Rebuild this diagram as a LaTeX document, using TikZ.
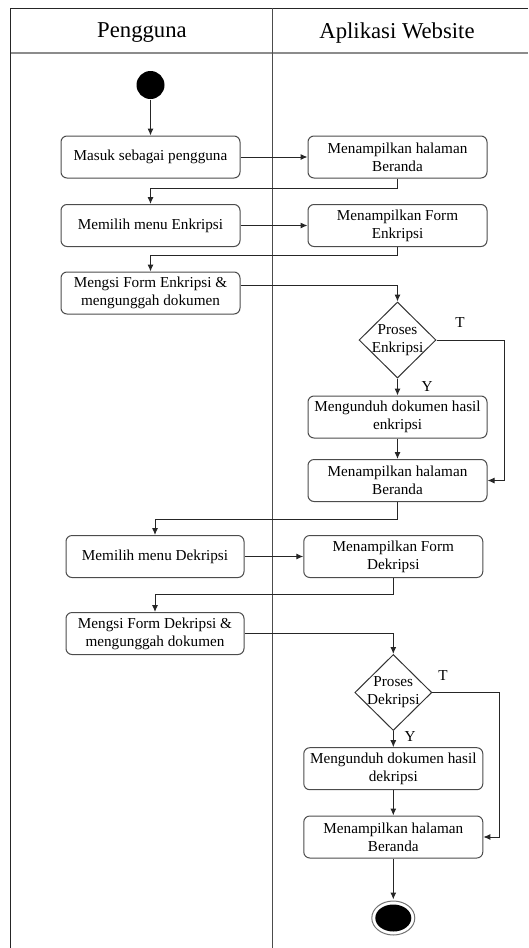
\documentclass[tikz,border=0pt]{standalone}
\usepackage{fontspec}
\setmainfont{Liberation Serif}
\usetikzlibrary{positioning,arrows.meta,shapes}

\begin{document}
\begin{tikzpicture}[x=1pt,y=-1pt,line width=1pt,>={Latex[length=7pt,width=6pt]},
  activity/.style={draw=black!70,rounded corners=6pt,minimum width=179pt,minimum height=42pt,
    inner sep=1pt,align=center,font=\fontsize{15.2}{18}\selectfont},
  decision/.style={draw=black!80,diamond,minimum width=77pt,minimum height=76pt,inner sep=0pt},
  tag/.style={font=\fontsize{15.2}{18}\selectfont,inner sep=0pt},
  lane/.style={font=\fontsize{22.7}{27}\selectfont},
  flow/.style={draw=black!85,->}]
  \useasboundingbox (0,0) rectangle (528,948);
  % swimlanes
  \draw[black!85] (10.5,948) -- (10.5,8) -- (528,8);
  \draw[black!45,line width=1.6pt] (10.5,53) -- (528,53);
  \draw[black!70] (272,8) -- (272,948);
  \node[lane] (user) at (142,33) {Pengguna};
  \node[lane] (web) at (397,33) {Aplikasi Website};

  % nodes
  \node[circle,fill=black,minimum size=28pt,inner sep=0pt] (start) at (150.5,85) {};
  \node[activity] (login) at (150.5,157) {Masuk sebagai pengguna};
  \node[activity] (home1) at (397.5,157) {Menampilkan halaman\\Beranda};
  \node[activity] (menuE) at (150.5,225.5) {Memilih menu Enkripsi};
  \node[activity] (formE) at (397.5,225.5) {Menampilkan Form\\Enkripsi};
  \node[activity] (fillE) at (150.5,293) {Mengsi Form Enkripsi \&\\mengunggah dokumen};
  \node[decision,label={[align=center,font=\fontsize{15.2}{18}\selectfont]center:Proses\\Enkripsi}] (procE) at (397.5,340) {};
  \node[activity] (downE) at (397.5,417) {Mengunduh dokumen hasil\\enkripsi};
  \node[activity] (home2) at (397.5,480.5) {Menampilkan halaman\\Beranda};
  \node[activity,minimum width=178pt] (menuD) at (155,556.5) {Memilih menu Dekripsi};
  \node[activity] (formD) at (393.3,556.5) {Menampilkan Form\\Dekripsi};
  \node[activity,minimum width=178pt] (fillD) at (155,633.5) {Mengsi Form Dekripsi \&\\mengunggah dokumen};
  \node[decision,label={[align=center,font=\fontsize{15.2}{18}\selectfont]center:Proses\\Dekripsi}] (procD) at (393.3,692.5) {};
  \node[activity] (downD) at (393.3,768.7) {Mengunduh dokumen hasil\\dekripsi};
  \node[activity] (home3) at (393.3,837) {Menampilkan halaman\\Beranda};
  \node[ellipse,fill=black,minimum width=36pt,minimum height=27pt,inner sep=0pt] (stop) at (393.3,918) {};
  \draw[black!55] (stop.center) ellipse [x radius=21.5pt,y radius=17pt];

  \node[tag] (tE) at (460,323) {T};
  \node[tag] (yE) at (427,387) {Y};
  \node[tag] (tD) at (443,676) {T};
  \node[tag] (yD) at (410,737) {Y};

  % connectors
  \draw[flow] (start) -- (login);
  \draw[flow] (login) -- (home1);
  \draw[flow] (home1.south) -- ++(0,9.5) -| (menuE.north);
  \draw[flow] (menuE) -- (formE);
  \draw[flow] (formE.south) -- ++(0,8) -| (fillE.north);
  \draw[flow] ([yshift=8pt]fillE.east) -| (procE.north);
  \draw[flow] (procE.south) -- (downE.north);
  \draw[flow] (procE.east) -- ++(68,0) |- (home2.east);
  \draw[flow] (downE) -- (home2);
  \draw[flow] (home2.south) -- ++(0,17) -| (menuD.north);
  \draw[flow] (menuD) -- (formD);
  \draw[flow] (formD.south) -- ++(0,16.5) -| (fillD.north);
  \draw[flow] (fillD.east) -| (procD.north);
  \draw[flow] (procD.south) -- (downD.north);
  \draw[flow] (procD.east) -- ++(67.6,0) |- (home3.east);
  \draw[flow] (downD) -- (home3);
  \draw[flow] (home3.south) -- ([yshift=4.5pt]stop.north);
\end{tikzpicture}
\end{document}
